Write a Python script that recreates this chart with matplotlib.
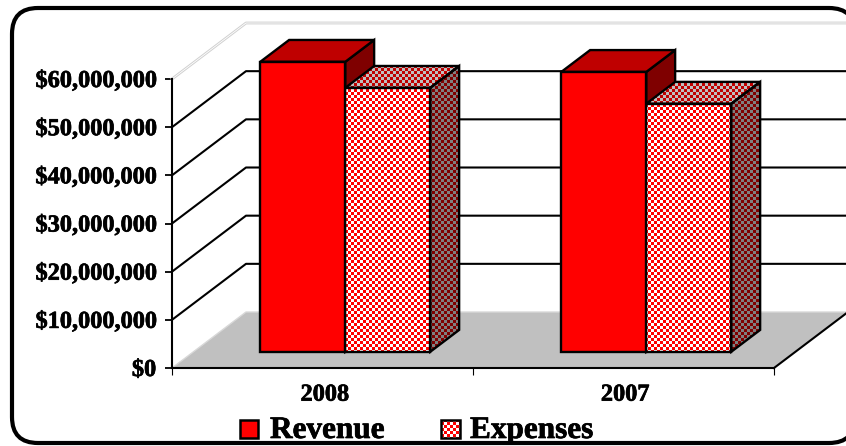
import matplotlib
matplotlib.use('Agg')
import matplotlib.pyplot as plt
import matplotlib.patheffects as pe
import numpy
from matplotlib.patches import FancyBboxPatch, Polygon, Rectangle

years = ['2008', '2007']
revenue = [60.2e6, 58.1e6]
expenses = [54.8e6, 51.5e6]
yticks = [0, 10e6, 20e6, 30e6, 40e6, 50e6, 60e6]

W, H = 846, 446
# front plane of the chart, in pixels
LEFT, RIGHT, TOP, BOTTOM = 172, 774, 79, 368
# 3d depth offset in data units
DX = 74 / 301.
DY = 56 / 48.17 * 10e6
LW = 1.5
CELL = 3
FONT = 'Liberation Serif'
# thin outline to get the heavy look of the labels
HEAVY = [pe.withStroke(linewidth=0.5, foreground='black')]

fig = plt.figure(figsize=(W / 100., H / 100.), dpi=100, facecolor='white')

# overlay in pixels for the frame and the legend
bg = fig.add_axes([0, 0, 1, 1])
bg.set_xlim(0, W)
bg.set_ylim(H, 0)
bg.axis('off')
bg.add_patch(FancyBboxPatch((12 + 26, 8 + 26), 855 - 12 - 52, 443 - 8 - 52,
                            boxstyle='round,pad=26,rounding_size=26',
                            fc='white', ec='black', lw=3.0, clip_on=False))

ax = fig.add_axes([LEFT / float(W), 1 - BOTTOM / float(H),
                   (RIGHT - LEFT) / float(W), (BOTTOM - TOP) / float(H)])
ax.set_xlim(0, 2)
ax.set_ylim(0, 60e6)
ax.patch.set_visible(False)


def checker(axes, pts, col1, col2, zorder):
    # fill a polygon with a small check pattern on the pixel grid
    pts = numpy.array(pts)
    px = axes.transData.transform(pts)
    x0, y0 = numpy.floor(px.min(axis=0))
    x1, y1 = numpy.ceil(px.max(axis=0))
    xx, yy = numpy.meshgrid(numpy.arange(x0, x1), numpy.arange(y0, y1))
    mask = (numpy.floor(xx / CELL) + numpy.floor(yy / CELL)) % 2 == 0
    img = numpy.where(mask[..., None], numpy.array(col1), numpy.array(col2))
    (dx0, dy0), (dx1, dy1) = axes.transData.inverted().transform([(x0, y0), (x1, y1)])
    xlim, ylim = axes.get_xlim(), axes.get_ylim()
    im = axes.imshow(img / 255., extent=(dx0, dx1, dy0, dy1), origin='lower',
                     aspect='auto', interpolation='nearest', zorder=zorder)
    im.set_clip_path(Polygon(pts, transform=axes.transData))
    im.set_clip_box(fig.bbox)
    axes.set_xlim(xlim)
    axes.set_ylim(ylim)


def face(axes, pts, color, zorder):
    axes.add_patch(Polygon(pts, closed=True, fc=color, ec='black', lw=1.7,
                           zorder=zorder, clip_on=False, joinstyle='miter'))


def bar3d(axes, x, val, width, solid):
    # one box standing on the floor, part way into the depth
    f0, f1 = 0.29, 0.68
    x0 = x + f0 * DX
    y0 = f0 * DY
    ddx = (f1 - f0) * DX
    ddy = (f1 - f0) * DY
    front = [(x0, y0), (x0 + width, y0), (x0 + width, y0 + val), (x0, y0 + val)]
    top = [(x0, y0 + val), (x0 + width, y0 + val),
           (x0 + width + ddx, y0 + val + ddy), (x0 + ddx, y0 + val + ddy)]
    side = [(x0 + width, y0), (x0 + width + ddx, y0 + ddy),
            (x0 + width + ddx, y0 + val + ddy), (x0 + width, y0 + val)]
    if solid:
        # side and top first, the neighbouring box hides the lower part of the side
        face(axes, side, '#7f0000', 3)
        face(axes, top, '#bf0000', 3)
        face(axes, front, '#ff0000', 6)
    else:
        checker(axes, front, (255, 0, 0), (255, 255, 255), 4)
        checker(axes, top, (191, 0, 0), (191, 191, 191), 4)
        checker(axes, side, (127, 0, 0), (127, 127, 127), 4)
        for pts in (front, top, side):
            face(axes, pts, 'none', 5)


# floor
ax.add_patch(Polygon([(0, 0), (DX, DY), (2 + DX, DY), (2, 0)], fc='#c0c0c0',
                     ec='none', zorder=1, clip_on=False))
ax.plot([0, DX, 2 + DX], [0, DY, DY], color='#d8d8d8', lw=1.0, zorder=1, clip_on=False)
ax.plot([2, 2 + DX], [0, DY], color='black', lw=LW, zorder=2, clip_on=False)

# gridlines running along the side wall and the back wall
for t in yticks[1:-1]:
    ax.plot([0, DX, 2 + DX], [t, t + DY, t + DY], color='black', lw=LW,
            zorder=2, clip_on=False)
# the top edge of the walls is a pale double line
t = yticks[-1]
ax.plot([0, DX, 2 + DX], [t, t + DY, t + DY], color='#d0d0d0', lw=2.0,
        zorder=2, clip_on=False)
ax.plot([0, DX, 2 + DX], [t, t + DY, t + DY], color='white', lw=0.6,
        zorder=2, clip_on=False)

barw = 85 / 301.
for i in range(len(years)):
    x = i + 0.222
    bar3d(ax, x, revenue[i], barw, True)
    bar3d(ax, x + barw, expenses[i], barw, False)

for s in ['top', 'right']:
    ax.spines[s].set_visible(False)
for s in ['left', 'bottom']:
    ax.spines[s].set_linewidth(LW)
    ax.spines[s].set_zorder(3)

ax.set_yticks(yticks)
ax.set_yticklabels(['$' + format(int(t), ',') for t in yticks],
                   fontsize=17.5, family=FONT, weight='bold', path_effects=HEAVY)
ax.tick_params(axis='y', length=5, width=1.3, pad=6.5)
ax.set_xticks([0, 1, 2])
ax.set_xticklabels([])
ax.tick_params(axis='x', which='major', length=5, width=0.8)
ax.set_xticks([0.507, 1.505], minor=True)
ax.set_xticklabels(years, minor=True, fontsize=17.5, family=FONT, weight='bold',
                   path_effects=HEAVY)
ax.tick_params(axis='x', which='minor', length=0, pad=12)

# legend
bg.add_patch(Rectangle((239.5, 420), 18.5, 17.5, fc='#ff0000', ec='black', lw=1.8))
bg.text(270, 438, 'Revenue', fontsize=22.5, family=FONT, weight='bold', va='baseline',
        path_effects=HEAVY)
sw = [(441, 420), (459.5, 420), (459.5, 437.5), (441, 437.5)]
checker(bg, sw, (255, 0, 0), (255, 255, 255), 2)
bg.add_patch(Polygon(sw, fc='none', ec='black', lw=1.8, zorder=3))
bg.text(470, 438, 'Expenses', fontsize=22.5, family=FONT, weight='bold', va='baseline',
        path_effects=HEAVY)

fig.savefig('out.png', dpi=100)
